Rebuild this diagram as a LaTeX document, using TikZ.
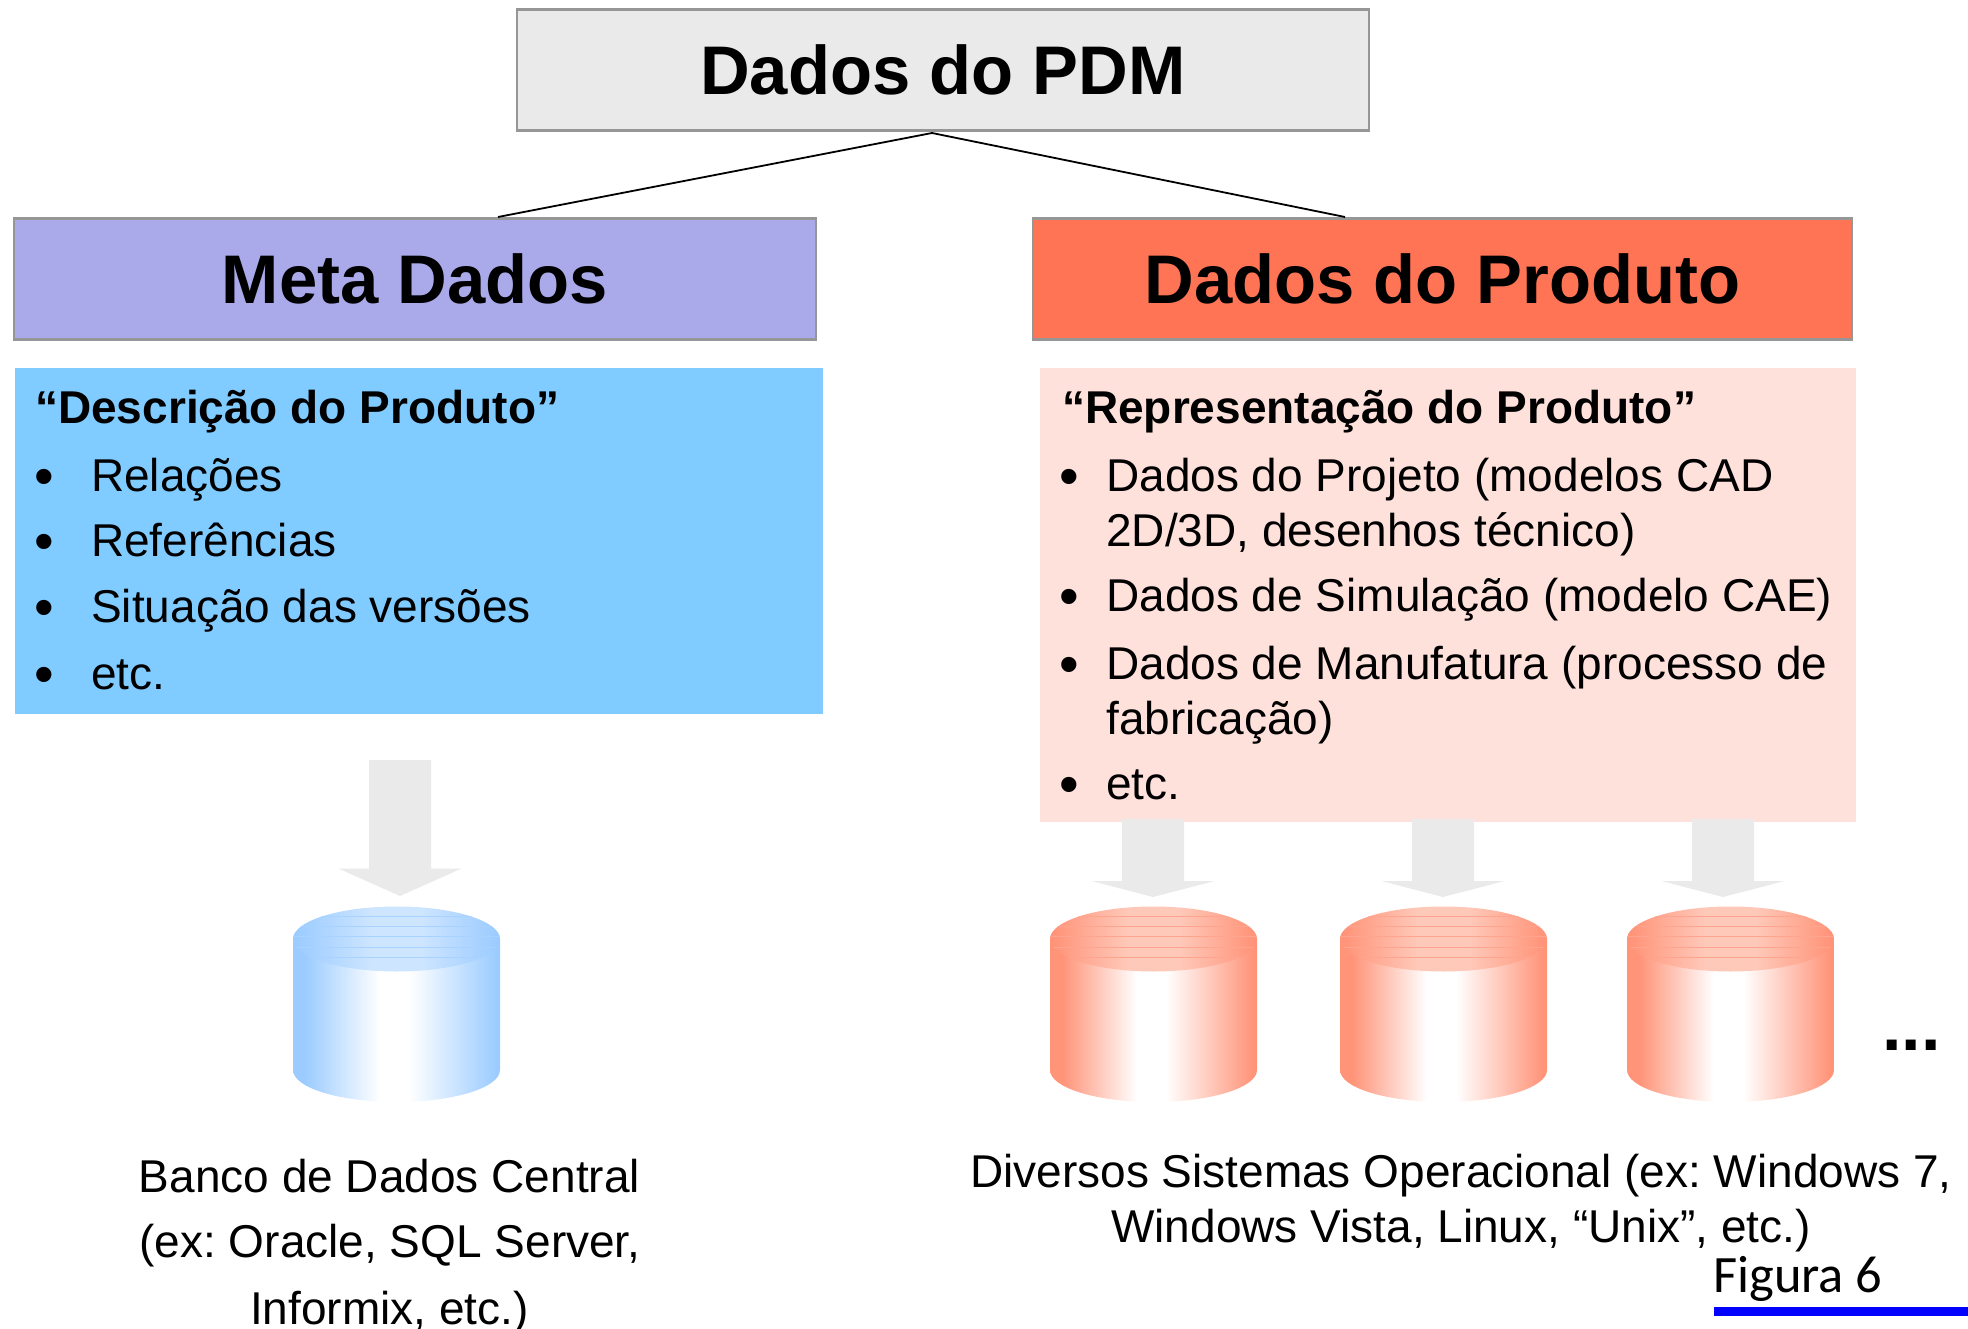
\documentclass[tikz,border=0pt]{standalone}
\usepackage{fontspec}
\setmainfont{Liberation Sans}
\newfontfamily\figfont{Carlito}
\frenchspacing
\definecolor{cyb}{HTML}{9CCCFF}
\definecolor{cybtop}{HTML}{CDE5FF}
\definecolor{cybline}{HTML}{A8D2FF}
\definecolor{cyr}{HTML}{FF9479}
\definecolor{cyrtop}{HTML}{FFC9BA}
\definecolor{cyrline}{HTML}{FFA48E}
\definecolor{arrowgray}{HTML}{EAEAEA}
\definecolor{boxline}{HTML}{969696}
\pgfdeclarehorizontalshading{sideblue}{100bp}{color(0bp)=(cyb); color(28bp)=(cyb); color(46bp)=(white); color(53bp)=(white); color(74bp)=(cyb); color(100bp)=(cyb)}
\pgfdeclarehorizontalshading{sidered}{100bp}{color(0bp)=(cyr); color(28bp)=(cyr); color(46bp)=(white); color(53bp)=(white); color(74bp)=(cyr); color(100bp)=(cyr)}
\pgfdeclarehorizontalshading{topblue}{100bp}{color(0bp)=(cyb); color(26bp)=(cyb); color(44bp)=(cybtop); color(56bp)=(cybtop); color(74bp)=(cyb); color(100bp)=(cyb)}
\pgfdeclarehorizontalshading{topred}{100bp}{color(0bp)=(cyr); color(26bp)=(cyr); color(44bp)=(cyrtop); color(56bp)=(cyrtop); color(74bp)=(cyr); color(100bp)=(cyr)}
\tikzset{
  head/.style={draw=boxline,line width=2.2pt,minimum height=121pt,inner sep=0pt,text=black,font=\bfseries\fontsize{68.8}{69}\selectfont},
  txt/.style={anchor=base west,inner sep=0pt,font=\fontsize{46}{46}\selectfont},
  bul/.style={anchor=base west,inner sep=0pt,yshift=-4pt,font=\fontsize{56}{56}\selectfont},
  htxt/.style={txt,font=\bfseries\fontsize{46}{46}\selectfont},
  lbl/.style={anchor=base,inner sep=0pt,font=\fontsize{46}{46}\selectfont},
  bigarrow/.style={fill=arrowgray,draw=none},
}
\newcommand{\cyl}[3]{% centre x, side shading, top shading
  \path[shading=#2] (#1-103.5,939) -- (#1-103.5,1070) arc[start angle=180,end angle=0,x radius=103.5,y radius=32] -- (#1+103.5,939) -- cycle;
  \begin{scope}
    \clip (#1,939) ellipse[x radius=103.5,y radius=32.5];
    \path[shading=#3] (#1-103.5,906) rectangle (#1+103.5,972);
  \end{scope}
}
\newcommand{\cyllines}[2]{%
  \begin{scope}
    \clip (#1,939) ellipse[x radius=103.5,y radius=32.5];
    \foreach \yy in {916,926,936.5,947,957}
      \draw[#2,line width=1pt] (#1-103.5,\yy) -- (#1+103.5,\yy);
  \end{scope}
}
\newcommand{\bigdown}[4]{% cx, top, shoulder, tip
  \fill[bigarrow] (#1-31,#2) -- (#1+31,#2) -- (#1+31,#3) -- (#1+61.5,#3) -- (#1,#4) -- (#1-61.5,#3) -- (#1-31,#3) -- cycle;
}
\begin{document}
\begin{tikzpicture}[x=1pt,y=-1pt]
\useasboundingbox (0,0) rectangle (1968,1329);
\fill[white] (0,0) rectangle (1968,1329);
% header boxes
\node[head,fill=arrowgray,minimum width=852pt] (top) at (943,70) {\raisebox{1.4pt}{Dados do PDM}};
\node[head,fill={rgb,255:red,170;green,170;blue,235},minimum width=802pt] (meta) at (415,279) {\raisebox{1.4pt}{Meta Dados}};
\node[head,fill={rgb,255:red,255;green,116;blue,84},minimum width=819pt] (prod) at (1442.5,279) {\raisebox{1.4pt}{Dados do Produto}};
\coordinate (apex) at (932,133);
\coordinate (mt) at (498,217);
\coordinate (pt) at (1345,217);
\draw[line width=1.8pt] (mt) -- (apex) -- (pt);
% panels
\fill[fill={rgb,255:red,128;green,203;blue,255}] (15,368) rectangle (823,713.5);
\fill[fill={rgb,255:red,255;green,225;blue,220}] (1040,368) rectangle (1855.5,821.5);
% block arrows
\bigdown{400}{760}{868.5}{896}
\bigdown{1153}{819}{881}{897}
\bigdown{1443}{819}{881}{897}
\bigdown{1723}{819}{881}{897}
% cylinders
\cyl{396.5}{sideblue}{topblue}\cyllines{396.5}{cybline}
\cyl{1153.5}{sidered}{topred}\cyllines{1153.5}{cyrline}
\cyl{1443.5}{sidered}{topred}\cyllines{1443.5}{cyrline}
\cyl{1730.5}{sidered}{topred}\cyllines{1730.5}{cyrline}
% left panel text
\node[htxt] (lh) at (35,424) {“Descrição do Produto”};
\node[bul] (lb1) at (34,491) {•};
\node[txt] (l1) at (91,491) {Relações};
\node[bul] (lb2) at (34,556) {•};
\node[txt] (l2) at (91,556) {Referências};
\node[bul] (lb3) at (34,622) {•};
\node[txt] (l3) at (91,622) {Situação das versões};
\node[bul] (lb4) at (34,689) {•};
\node[txt] (l4) at (91,689) {etc.};
% right panel text
\node[htxt] (rh) at (1062,424) {“Representação do Produto”};
\node[bul] (rb1) at (1059,491) {•};
\node[txt] (r1) at (1106,491) {Dados do Projeto (modelos CAD};
\node[txt] (r1b) at (1106,546) {2D/3D, desenhos técnico)};
\node[bul] (rb2) at (1059,611) {•};
\node[txt] (r2) at (1106,611) {Dados de Simulação (modelo CAE)};
\node[bul] (rb3) at (1059,679) {•};
\node[txt] (r3) at (1106,679) {Dados de Manufatura (processo de};
\node[txt] (r3b) at (1106,734) {fabricação)};
\node[bul] (rb4) at (1059,799) {•};
\node[txt] (r4) at (1106,799) {etc.};
% captions
\node[lbl] (c1) at (389.5,1192) {Banco de Dados Central};
\node[lbl] (c2) at (390,1257.5) {(ex: Oracle, SQL Server,};
\node[lbl] (c3) at (389.5,1324) {Informix, etc.)};
\node[lbl] (d1) at (1461,1187) {Diversos Sistemas Operacional (ex: Windows 7,};
\node[lbl] (d2) at (1461,1242) {Windows Vista, Linux, “Unix”, etc.)};
\node[anchor=base west,inner sep=0pt,font=\bfseries\fontsize{70}{70}\selectfont] (dots) at (1882,1050) {...};
\node[anchor=base west,inner sep=0pt,font=\figfont\fontsize{52.5}{53}\selectfont] (fig) at (1713,1292) {Figura 6};
\fill[blue] (1714,1307) rectangle (1968,1316);
\end{tikzpicture}
\end{document}
